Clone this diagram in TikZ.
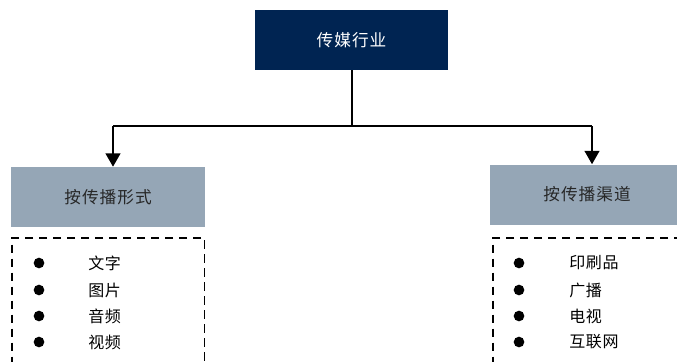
\documentclass[tikz,border=0pt]{standalone}
\usepackage{fontspec}
\setmainfont{Noto Sans CJK SC}
\usetikzlibrary{
  arrows.meta,
  positioning,
  calc,
  }
\definecolor{navy}{RGB}{0,36,82}
\definecolor{slate}{RGB}{149,166,182}
\tikzset{
  topbox/.style={rectangle, fill=navy, text=white, minimum width=144.75pt, minimum height=45pt, font=\fontsize{12.5}{14}\selectfont\addfontfeatures{LetterSpace=6}},
  catbox/.style={rectangle, fill=slate, text=black!85, minimum width=145.5pt, minimum height=45pt, font=\fontsize{12.5}{14}\selectfont\addfontfeatures{LetterSpace=6}},
  listbox/.style={rectangle, draw, dash pattern=on 6.5pt off 4pt, line width=1.3pt, minimum width=144.5pt, minimum height=105pt},
  bullet/.style={circle, fill=black, inner sep=0pt, minimum size=8pt},
  item/.style={anchor=west, inner sep=0pt, font=\fontsize{12}{14}\selectfont\addfontfeatures{LetterSpace=4}},
  conn/.style={line width=1.5pt},
  arrow/.style={conn, -{Triangle[width=11pt,length=10pt]}},
}
\begin{document}
\begin{tikzpicture}[x=0.75pt, y=-0.75pt]
                \clip (0,0) rectangle (677,361);
                \node[topbox] (media) at (351.5,40) {传媒行业};
                \node[catbox] (form) at (108,197) {按传播形式};
                \node[catbox] (channel) at (587,194.5) {按传播渠道};
                \node[listbox, anchor=north west] (formlist) at (11,237) {};
                \node[listbox, anchor=north west] (channellist) at (492,237) {};
                % split point
                \coordinate (split) at (352,126);
                \coordinate (splitL) at (113,126);
                \coordinate (splitR) at (592,126);
                \draw[conn] (media.south -| split) -- (split);
                \draw[conn] (splitL) -- (splitR);
                \draw[arrow] (splitL) -- (splitL |- form.north);
                \draw[arrow] (splitR) -- (splitR |- channel.north);
                % list items
                \foreach \y/\txt [count=\i] in {263/文字, 290/图片, 316/音频, 342/视频} {
                    \node[bullet] (fb\i) at (39,\y) {};
                    \node[item] (ft\i) at (88,\y) {\txt};
                }
                \foreach \y/\txt [count=\i] in {263/印刷品, 290/广播, 316/电视, 342/互联网} {
                    \node[bullet] (cb\i) at (519,\y) {};
                    \node[item] (ct\i) at (569,\y) {\txt};
                }
            \end{tikzpicture}
\end{document}
